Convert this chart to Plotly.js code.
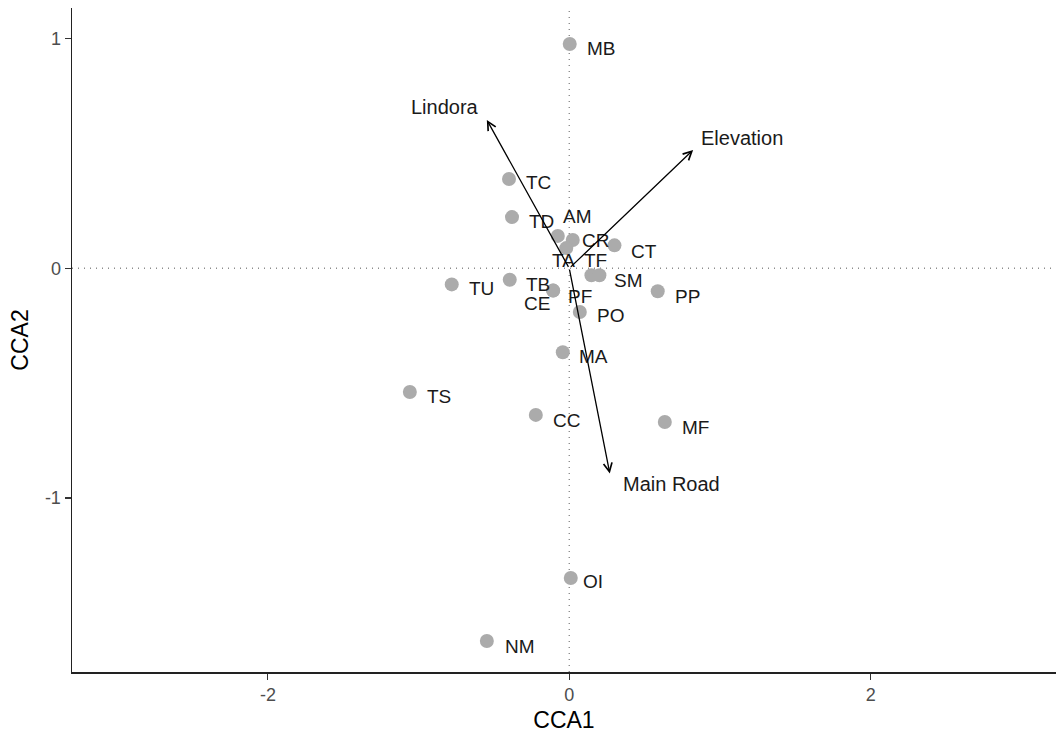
<!DOCTYPE html>
<html>
<head>
<meta charset="utf-8">
<script src="https://cdn.plot.ly/plotly-3.0.1.min.js"></script>
<style>html,body{margin:0;padding:0;background:#fff;}#chart{width:1056px;height:733px;}</style>
</head>
<body>
<div id="chart"></div>
<script>
// Site scores
const sites = ['MB','TC','TD','AM','CR','TA','CT','TF','SM','TU','TB','CE','PF','PO','PP','MA','TS','CC','MF','OI','NM'];
const cca1  = [0.003,-0.40,-0.38,-0.076,0.023,-0.02,0.30,0.147,0.20,-0.78,-0.395,-0.107,-0.107,0.07,0.587,-0.043,-1.058,-0.222,0.634,0.01,-0.547];
const cca2  = [0.976,0.389,0.223,0.141,0.123,0.088,0.100,-0.030,-0.030,-0.070,-0.050,-0.097,-0.097,-0.190,-0.100,-0.365,-0.538,-0.638,-0.669,-1.348,-1.622];
// label offsets (pixels) as placed by the repel layout
const labDX = [15,15,15,3,7,-16,15,-9,13,15,14,-31,13,15,15,14,15,15,15,10,16];
const labDY = [-4,-4,-4,19,0,-12,-6,15,-5,-4,-5,-13,-6,-4,-5,-4,-5,-6,-5,-3,-6];

// Environmental vectors
const envVars = ['Lindora','Elevation','Main Road'];
const envX = [-0.547, 0.822, 0.269];
const envY = [0.646, 0.515, -0.893];
const envDX = [-42, 49, 62];
const envDY = [13, 12, -11];

const font = 'Liberation Sans, Arial, sans-serif';

const traces = [
  {x:[0,0], y:[-1.757,1.133], mode:'lines', line:{color:'#8c8c8c', width:1.4, dash:'1px,5px'}, hoverinfo:'skip', showlegend:false},
  {x:[-3.30,3.23], y:[0,0], mode:'lines', line:{color:'#8c8c8c', width:1.4, dash:'1px,5px'}, hoverinfo:'skip', showlegend:false},
  {x:cca1, y:cca2, mode:'markers', marker:{color:'#ababab', size:14}, text:sites, showlegend:false}
];

const annotations = [];
sites.forEach((s,i)=>{
  annotations.push({x:cca1[i], y:cca2[i], xref:'x', yref:'y', text:s, showarrow:false,
    xanchor:'left', yanchor:'middle', xshift:labDX[i], yshift:labDY[i],
    font:{family:font, size:19, color:'#1a1a1a'}});
});
envVars.forEach((v,i)=>{
  annotations.push({x:envX[i], y:envY[i], ax:0, ay:0, xref:'x', yref:'y', axref:'x', ayref:'y',
    text:'', showarrow:true, arrowhead:5, arrowsize:1.3, arrowwidth:1.3, arrowcolor:'#000', standoff:0, startstandoff:0});
  annotations.push({x:envX[i], y:envY[i], xref:'x', yref:'y', text:v, showarrow:false,
    xanchor:'center', yanchor:'middle', xshift:envDX[i], yshift:envDY[i],
    font:{family:font, size:20, color:'#1a1a1a'}});
});

const layout = {
  width:1056, height:733,
  margin:{l:72, r:0, t:8, b:61},
  paper_bgcolor:'#fff', plot_bgcolor:'#fff',
  showlegend:false,
  font:{family:font},
  xaxis:{range:[-3.30,3.23], tickvals:[-2,0,2], ticktext:['-2','0','2'], showgrid:false, zeroline:false,
    showline:true, linecolor:'#222', linewidth:1.5, ticks:'outside', ticklen:6, tickcolor:'#333', tickwidth:1.2,
    tickfont:{family:font, size:18, color:'#4d4d4d'},
    title:{text:'CCA1', font:{family:font, size:23, color:'#000'}, standoff:8}},
  yaxis:{range:[-1.757,1.133], tickvals:[-1,0,1], ticktext:['-1','0','1'], showgrid:false, zeroline:false,
    showline:true, linecolor:'#222', linewidth:1.5, ticks:'outside', ticklen:6, tickcolor:'#333', tickwidth:1.2,
    tickfont:{family:font, size:18, color:'#4d4d4d'},
    title:{text:'CCA2', font:{family:font, size:23, color:'#000'}, standoff:10}},
  annotations:annotations
};

Plotly.newPlot('chart', traces, layout, {displayModeBar:false, staticPlot:true});
</script>
</body>
</html>
